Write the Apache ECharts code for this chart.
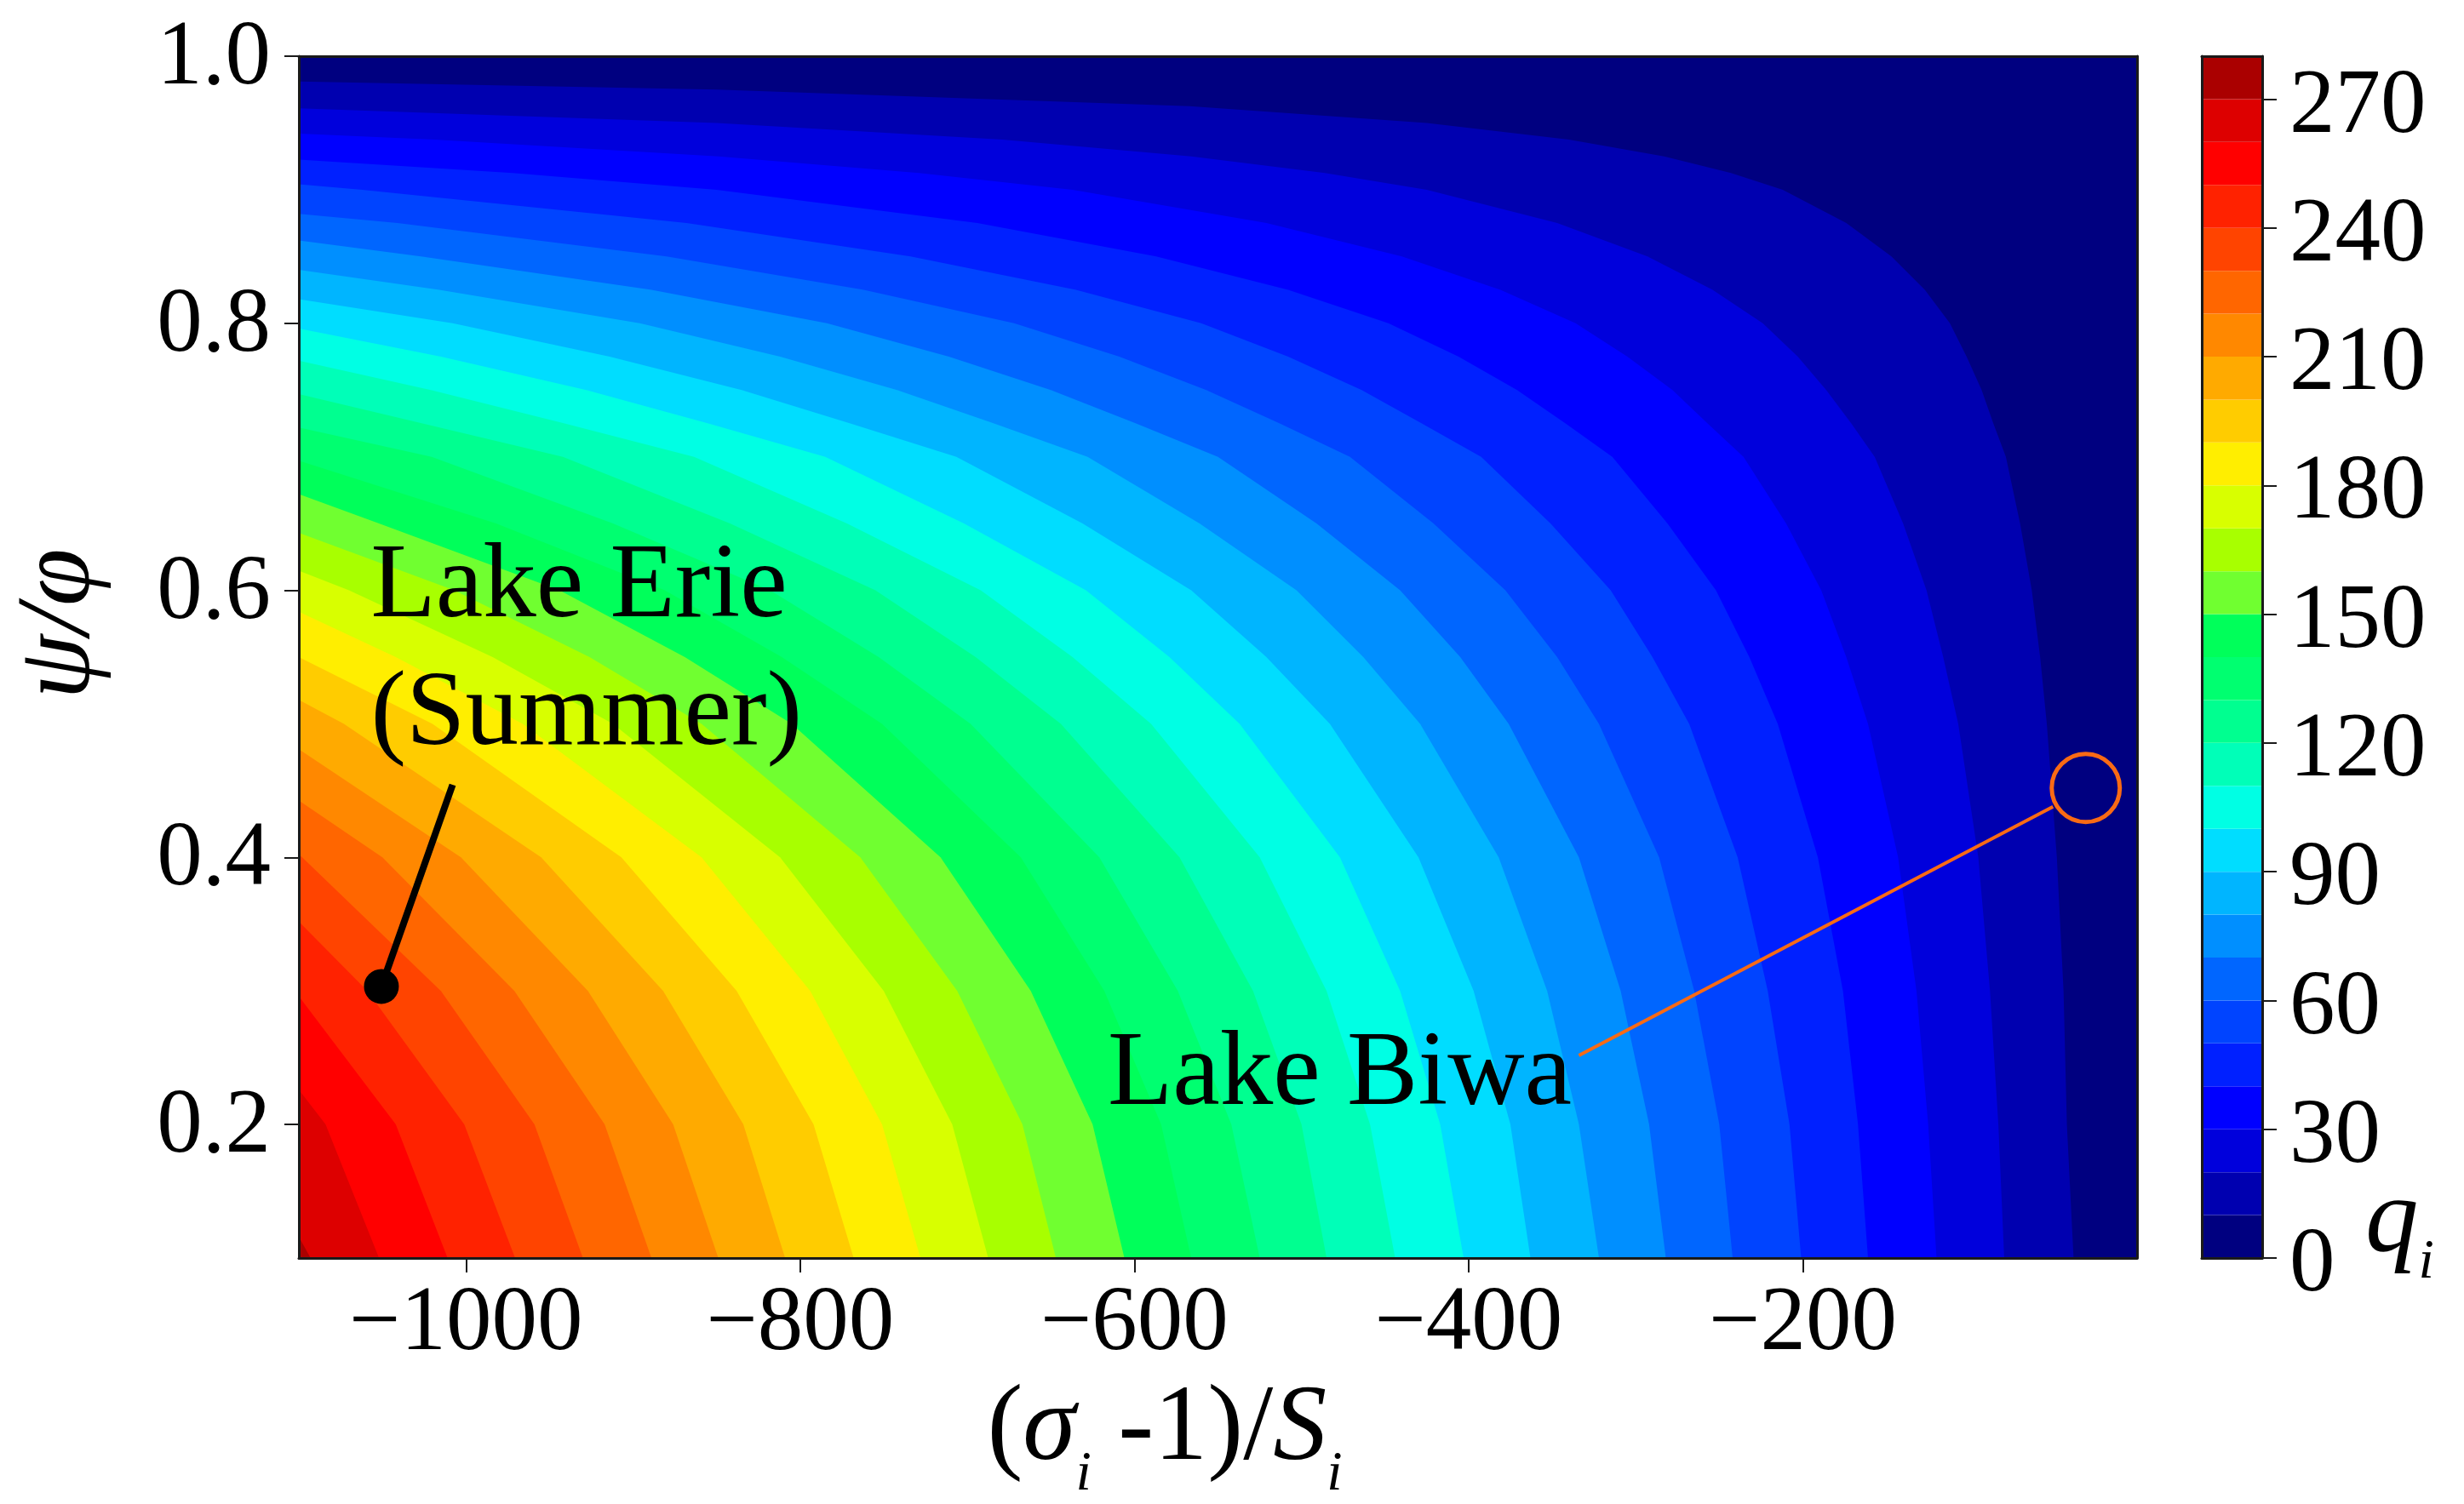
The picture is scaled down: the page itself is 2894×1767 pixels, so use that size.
<!DOCTYPE html>
<html>
<head>
<meta charset="utf-8">
<style>html,body{margin:0;padding:0;background:#fff}#c{width:2894px;height:1767px}</style>
<script src="https://cdn.jsdelivr.net/npm/echarts@6/dist/echarts.min.js"></script>
</head>
<body>
<div id="c"></div>
<script>
// Axis limits and tick labels
const xMin = -1100, xMax = 0, yMin = 0.1, yMax = 1.0;
const xTicks = [-1000, -800, -600, -400, -200];
const yTicks = [0.2, 0.4, 0.6, 0.8, 1.0];
const barTicks = [0, 30, 60, 90, 120, 150, 180, 210, 240, 270];

// Filled band lower bounds and colours
const bandLow = [0,10,20,30,40,50,60,70,80,90,100,110,120,130,140,150,160,170,180,190,200,210,220,230,240,250,260,270];
const bandColors = ['#000080','#0000b0','#0000dc','#0000ff','#0020ff','#0044ff','#0066ff','#008fff','#00b5ff','#00ddff','#00ffe4','#00ffb8','#00ff90','#00ff70','#00ff5a','#70ff30','#a8ff00','#d8ff00','#ffee00','#ffcc00','#ffaa00','#ff8800','#ff6600','#ff4400','#ff2200','#ff0000','#dd0000','#aa0000'];

// Contour lines: x position at each y of rowY, going upward
const rowY = [0.1,0.2,0.3,0.4,0.5,0.55,0.6,0.65,0.7,0.725,0.75,0.775,0.8,0.825,0.85,0.875,0.9,0.9125,0.925,0.9375,0.95,0.9625,0.975];
const q10 = [-38,-42,-44,-48,-54,-58,-63,-70,-78.5,-86,-93,-102,-112,-127,-147,-174,-212,-243,-283,-340,-425,-567,-850];
const q20 = [-79.5,-83,-88,-95,-107,-116,-126,-140,-157,-171,-186,-203,-224,-254,-293,-347,-425,-486,-566,-679,-850];
const q30 = [-120,-125,-132,-143,-161,-174,-189,-210,-235.5,-257,-278,-305,-336,-381,-440,-521,-637,-729,-849,-1019];
const q40 = [-161,-167,-176,-191,-215,-232,-252,-281,-314,-342,-371,-406,-448,-508,-587,-694,-850,-972];
const q50 = [-201,-208,-221,-239,-268,-290,-315,-351,-392.5,-428,-464,-508,-560,-635,-734,-868,-1062];
const q60 = [-242,-250,-265,-286,-322,-347,-378,-421,-471,-513,-557,-609,-672,-762,-880,-1041];
const q70 = [-282,-292,-309,-334,-376,-405,-441,-491,-550,-599,-650,-711,-784,-889,-1027];
const q80 = [-322,-334,-353,-382,-429,-463,-503,-561,-628,-684,-742,-812,-896,-1016];
const q90 = [-363,-375,-397,-430,-483,-521,-566,-631,-706.5,-770,-835,-914,-1008];
const q100 = [-403,-417,-441,-477,-537,-579,-629,-702,-785,-855,-928,-1015];
const q110 = [-444,-459,-485,-525,-590,-637,-692,-772,-863.5,-941,-1021];
const q120 = [-485,-500,-529,-573,-644,-695,-755,-842,-942,-1026];
const q130 = [-525,-542,-574,-621,-698,-753,-818,-912,-1020.5];
const q140 = [-566,-584,-618,-668,-751,-811,-881,-982];
const q150 = [-606,-625,-662,-716,-805,-869,-944,-1052];
const q160 = [-647,-667,-706,-764,-859,-926,-1007];
const q170 = [-687.5,-709,-750,-812,-912,-984,-1070];
const q180 = [-728,-751,-794,-859,-966,-1042];
const q190 = [-768,-792,-838,-907,-1020,-1100];
const q200 = [-809,-834,-882,-955,-1073];
const q210 = [-849,-876,-927,-1003];
const q220 = [-889,-917,-971,-1050];
const q230 = [-930,-959,-1015,-1098];
const q240 = [-970.6,-1001,-1059];
const q250 = [-1011,-1042];
const q260 = [-1052,-1084];
const q270 = [-1093];
// y at which each contour leaves through the left axis (levels 10..270)
const leftY = [0.981,0.961,0.942,0.9226,0.904,0.882,0.862,0.84,0.818,0.796,0.772,0.747,0.722,0.697,0.672,0.643,0.6147,0.584,0.551,0.518,0.481,0.4426,0.402,0.352,0.296,0.226,0.116];

// Annotations
const erieLabelPoint = [[-1050.6, 0.3034]];
const eriePointer = [[-1050.6, 0.3034], [-1008, 0.4544]];
const biwaPoint = [[-30.7, 0.452]];
const biwaPointer = [[-50.3, 0.438], [-334, 0.2517]];
const noteTexts = ['Lake Erie', '(Summer)', 'Lake Biwa'];
const noteX = [-1057, -1057, -616];
const noteY = [0.6015, 0.506, 0.2361];

const contours = [q10,q20,q30,q40,q50,q60,q70,q80,q90,q100,q110,q120,q130,q140,q150,q160,q170,q180,q190,q200,q210,q220,q230,q240,q250,q260,q270];

const FONT = '"Liberation Serif","Times New Roman",serif';
const INK = '#1a1a1a';
const ORANGE = '#f96a14';

function bandPolygon(i) {
  if (i === 0) return [[xMin,yMin],[xMax,yMin],[xMax,yMax],[xMin,yMax]];
  const line = contours[i - 1];
  const pts = [[xMin, yMin]];
  line.forEach((x, k) => pts.push([x, rowY[k]]));
  pts.push([xMin, leftY[i - 1]]);
  return pts;
}

const frameLine = { show: true, onZero: false, lineStyle: { color: INK, width: 3 } };
const plainAxis = (extra) => Object.assign({
  type: 'value', z: 10, splitLine: { show: false }, axisTick: { show: false },
  axisLabel: { show: false }, axisLine: frameLine
}, extra);
const tickStyle = (vals) => ({ show: true, length: 17, customValues: vals, lineStyle: { color: INK, width: 2 } });
const labelStyle = (vals, extra) => Object.assign({
  show: true, customValues: vals, fontFamily: FONT, fontSize: 107, color: '#000'
}, extra);

const option = {
  backgroundColor: '#fff',
  animation: false,
  grid: [
    { left: 351, top: 66, width: 2159, height: 1412, outerBoundsMode: 'none', containLabel: false },
    { left: 2586, top: 66, width: 71, height: 1412, outerBoundsMode: 'none', containLabel: false }
  ],
  xAxis: [
    plainAxis({ gridIndex: 0, min: xMin, max: xMax, position: 'bottom',
      axisTick: tickStyle(xTicks),
      axisLabel: labelStyle(xTicks, { margin: 25, formatter: v => String(v).replace('-', '\u2212') }),
      name: '{n|(}{it|\u03c3}{sub|i}{n| -1)/}{it|S}{sub|i}',
      nameLocation: 'middle', nameGap: 118,
      nameTextStyle: { padding: [0, 125, 0, 0], rich: {
        n: { fontFamily: FONT, fontSize: 126, lineHeight: 170, color: '#000', verticalAlign: 'middle' },
        it: { fontFamily: FONT, fontSize: 126, fontStyle: 'italic', lineHeight: 170, color: '#000', verticalAlign: 'middle' },
        sub: { fontFamily: FONT, fontSize: 66, fontStyle: 'italic', lineHeight: 170, color: '#000', verticalAlign: 'bottom' }
      } }
    }),
    plainAxis({ gridIndex: 0, min: xMin, max: xMax, position: 'top' }),
    plainAxis({ gridIndex: 1, min: 0, max: 1, position: 'bottom' }),
    plainAxis({ gridIndex: 1, min: 0, max: 1, position: 'top' })
  ],
  yAxis: [
    plainAxis({ gridIndex: 0, min: yMin, max: yMax, position: 'left',
      axisTick: tickStyle(yTicks),
      axisLabel: labelStyle(yTicks, { margin: 33, verticalAlign: 'top', lineHeight: 8, formatter: v => v.toFixed(1) }),
      name: '\u03c8/\u03c6', nameLocation: 'middle', nameGap: 218, nameRotate: 90,
      nameTextStyle: { fontFamily: FONT, fontSize: 122, fontStyle: 'italic', color: '#000', padding: [0, 0, 0, 78] }
    }),
    plainAxis({ gridIndex: 0, min: yMin, max: yMax, position: 'right' }),
    plainAxis({ gridIndex: 1, min: 0, max: 280, position: 'left' }),
    plainAxis({ gridIndex: 1, min: 0, max: 280, position: 'right',
      axisTick: tickStyle(barTicks),
      axisLabel: labelStyle(barTicks, { margin: 32, verticalAlign: 'top', lineHeight: 20 })
    })
  ],
  graphic: [{
    type: 'text', left: 2778, top: 1374, z: 20,
    style: {
      text: '{q|q}{sub|i}',
      rich: {
        q: { fontFamily: FONT, fontSize: 125, fontStyle: 'italic', lineHeight: 160, fill: '#000', verticalAlign: 'middle' },
        sub: { fontFamily: FONT, fontSize: 66, fontStyle: 'italic', lineHeight: 160, fill: '#000', verticalAlign: 'bottom' }
      }
    }
  }],
  series: [
    {
      type: 'custom', xAxisIndex: 0, yAxisIndex: 0, clip: true, z: 2,
      coordinateSystem: 'cartesian2d', silent: true,
      data: bandLow.map((v, i) => [i]),
      renderItem: (params, api) => {
        const i = api.value(0);
        return {
          type: 'polygon',
          shape: { points: bandPolygon(i).map(p => api.coord(p)) },
          style: { fill: bandColors[i], stroke: null }
        };
      },
      encode: { x: -1, y: -1 }
    },
    {
      type: 'custom', xAxisIndex: 2, yAxisIndex: 2, clip: true, z: 2, silent: true,
      data: bandLow.map((v, i) => [i]),
      renderItem: (params, api) => {
        const i = api.value(0);
        const a = api.coord([0, bandLow[i]]);
        const b = api.coord([1, bandLow[i] + 10]);
        return {
          type: 'rect',
          shape: { x: a[0], y: b[1], width: b[0] - a[0], height: a[1] - b[1] },
          style: { fill: bandColors[i], stroke: null }
        };
      },
      encode: { x: -1, y: -1 }
    },
    { type: 'line', xAxisIndex: 0, yAxisIndex: 0, z: 5, data: eriePointer, symbol: 'none', silent: true,
      lineStyle: { color: '#000', width: 8 } },
    { type: 'scatter', xAxisIndex: 0, yAxisIndex: 0, z: 6, data: erieLabelPoint, symbol: 'circle', symbolSize: 41, silent: true,
      itemStyle: { color: '#000', opacity: 1 } },
    { type: 'line', xAxisIndex: 0, yAxisIndex: 0, z: 5, data: biwaPointer, symbol: 'none', silent: true,
      lineStyle: { color: ORANGE, width: 4 } },
    { type: 'scatter', xAxisIndex: 0, yAxisIndex: 0, z: 6, data: biwaPoint, symbol: 'circle', symbolSize: 80, silent: true,
      itemStyle: { color: 'rgba(0,0,0,0)', borderColor: ORANGE, borderWidth: 5, opacity: 1 } },
    {
      type: 'custom', xAxisIndex: 0, yAxisIndex: 0, clip: false, z: 7, silent: true,
      data: noteTexts.map((t, i) => [i]),
      renderItem: (params, api) => {
        const i = api.value(0);
        const p = api.coord([noteX[i], noteY[i]]);
        return {
          type: 'text', x: p[0], y: p[1],
          style: { text: noteTexts[i], fontFamily: FONT, fontSize: 125, fill: '#000', align: 'left', verticalAlign: 'middle' }
        };
      },
      encode: { x: -1, y: -1 }
    }
  ]
};

const chart = echarts.init(document.getElementById('c'), null, { renderer: 'canvas', width: 2894, height: 1767 });
chart.setOption(option);
</script>
</body>
</html>
